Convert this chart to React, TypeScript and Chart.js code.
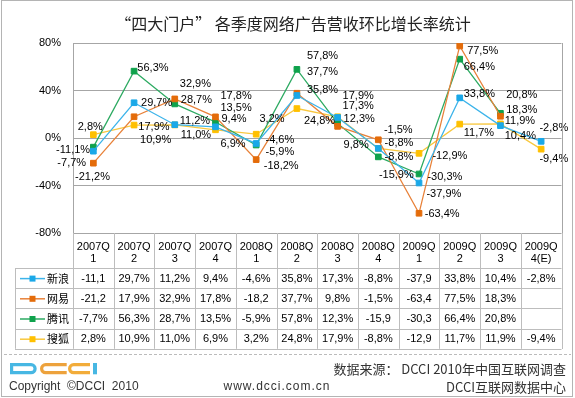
import React, { useEffect, useRef } from 'react';
import { Chart, registerables } from 'chart.js';

Chart.register(...registerables);

const title = '“四大门户” 各季度网络广告营收环比增长率统计';
const categories = ['2007Q1', '2007Q2', '2007Q3', '2007Q4', '2008Q1', '2008Q2', '2008Q3', '2008Q4', '2009Q1', '2009Q2', '2009Q3', '2009Q4(E)'];
const seriesNames = ['新浪', '网易', '腾讯', '搜狐'];
const sina = [-11.1, 29.7, 11.2, 9.4, -4.6, 35.8, 17.3, -8.8, -37.9, 33.8, 10.4, -2.8];
const netease = [-21.2, 17.9, 32.9, 17.8, -18.2, 37.7, 9.8, -1.5, -63.4, 77.5, 18.3, null];
const tencent = [-7.7, 56.3, 28.7, 13.5, -5.9, 57.8, 12.3, -15.9, -30.3, 66.4, 20.8, null];
const sohu = [2.8, 10.9, 11.0, 6.9, 3.2, 24.8, 17.9, -8.8, -12.9, 11.7, 11.9, -9.4];
const yMin = -80;
const yMax = 80;
const yStep = 40;
const sourceText = '数据来源： DCCI 2010年中国互联网调查';
const copyrightText = 'Copyright  ©DCCI  2010';
const siteText = 'www.dcci.com.cn';
const centerText = 'DCCI互联网数据中心';

const seriesValues = [sina, netease, tencent, sohu];
const seriesColors = ['#1AA8E8', '#E46C0A', '#0FA24C', '#FFC000'];
const lineColors = ['#3DB4EA', '#E8823A', '#2DAA62', '#F8C840'];

// label placement (dx, dy) relative to each point, left-aligned text
const labelOffsets: (number[] | null)[][] = [
  [[-37.3, -1.9], [7, -0.6], [5, -4.7], [6, -8], [9.3, -4], [10, -6], [5, -11.5], [6.3, -5.8], [7.4, 10.3], [4, -3.9], [4.3, 10], [-1.7, -14]],
  [[-18.3, 12.8], [4.3, 9.7], [5, -15.7], [5, -21], [7.6, 5.4], [10, -21.5], [6, 18], [5.6, -10.8], [5.7, 0], [7.4, 4], [5.7, -7], null],
  [[-36, 15.2], [3.3, -3.4], [6, -4.7], [5, -14.7], [9.3, 6.7], [10, -13.4], [6, -5], [0.6, 18], [8.4, 2], [4, 7.5], [5.7, -19.3], null],
  [[-15.6, -8.7], [6, 14], [6, 10], [5, 13.5], [3.3, -16], [7, 11.5], [5, -21.7], [6.3, 8.2], [13.4, 2.3], [4, 8.2], [4.3, -3.9], [-1.7, 9.1]],
];

const fmt = (v: number) => v.toFixed(1).replace('.', ',') + '%';
const cellText = (v: number | null) => {
  if (v === null || v === undefined) return '';
  const s = fmt(v);
  return s.length > 5 ? s.slice(0, -1) : s;
};

const LATIN = '"Liberation Sans", Arial, sans-serif';
const CJK = '"Noto Sans CJK SC", "Noto Sans", sans-serif';

const headerTop = 233;
const headerBottom = 268;
const rowH = 20.2;
const tableLeft = 15;

function drawLogo(ctx: CanvasRenderingContext2D, x: number, y: number) {
  const lw = 3.2;
  const h = 11.3;
  const t = y + lw / 2;
  const b = y + h - lw / 2;
  const r = (b - t) / 2;
  ctx.save();
  ctx.lineWidth = lw;
  // D
  ctx.strokeStyle = '#47B7E3';
  ctx.beginPath();
  const dR = x + 26.7 - lw / 2 - r;
  ctx.moveTo(x + lw / 2, t);
  ctx.lineTo(dR, t);
  ctx.arc(dR, t + r, r, -Math.PI / 2, Math.PI / 2, false);
  ctx.lineTo(x + lw / 2, b);
  ctx.closePath();
  ctx.stroke();
  // C C
  const drawC = (cx0: number, cx1: number, color: string) => {
    ctx.strokeStyle = color;
    ctx.beginPath();
    const c = cx0 + lw / 2 + r;
    ctx.moveTo(cx1, t);
    ctx.lineTo(c, t);
    ctx.arc(c, t + r, r, -Math.PI / 2, Math.PI / 2, true);
    ctx.lineTo(cx1, b);
    ctx.stroke();
  };
  drawC(x + 30, x + 56.7, '#EDA23C');
  drawC(x + 58, x + 80, '#F2AC3A');
  // I
  ctx.fillStyle = '#47B7E3';
  ctx.fillRect(x + 83, y, 4, h);
  ctx.restore();
}

const decorPlugin = {
  id: 'decor',
  afterDatasetsDraw(chart: any) {
    const { ctx } = chart;
    ctx.save();
    ctx.font = `11px ${LATIN}`;
    ctx.fillStyle = '#000';
    ctx.textAlign = 'left';
    ctx.textBaseline = 'middle';
    seriesValues.forEach((vals, si) => {
      const meta = chart.getDatasetMeta(si);
      vals.forEach((v, i) => {
        const off = labelOffsets[si][i];
        if (v === null || !off) return;
        const el = meta.data[i];
        ctx.fillText(fmt(v), el.x + off[0], el.y + off[1] + 0.5);
      });
    });
    ctx.restore();
  },
  afterDraw(chart: any) {
    const { ctx, chartArea: ca, scales } = chart;
    const x = scales.x;
    const n = categories.length;
    const colW = x.getPixelForValue(1) - x.getPixelForValue(0);
    const tableBottom = headerBottom + rowH * seriesNames.length;
    ctx.save();

    // outer frame
    ctx.strokeStyle = '#B4B4B4';
    ctx.lineWidth = 1;
    ctx.strokeRect(1.5, 0.5, 571, 396);

    // title
    ctx.fillStyle = '#222';
    ctx.font = `16px ${CJK}`;
    ctx.textAlign = 'center';
    ctx.textBaseline = 'middle';
    ctx.fillText(title, 293, 24);

    // plot right border
    ctx.strokeStyle = '#A6A6A6';
    ctx.beginPath();
    ctx.moveTo(Math.round(ca.right) + 0.5, ca.top);
    ctx.lineTo(Math.round(ca.right) + 0.5, tableBottom);
    ctx.stroke();

    // table lines
    ctx.strokeStyle = '#BDBDBD';
    ctx.beginPath();
    for (let k = 0; k <= n; k++) {
      const px = Math.round(x.getPixelForValue(k) - colW / 2) + 0.5;
      ctx.moveTo(px, headerTop);
      ctx.lineTo(px, tableBottom);
    }
    ctx.moveTo(tableLeft + 0.5, headerBottom);
    ctx.lineTo(tableLeft + 0.5, tableBottom);
    for (let r = 0; r <= seriesNames.length; r++) {
      const py = Math.round(headerBottom + r * rowH) + 0.5;
      ctx.moveTo(tableLeft, py);
      ctx.lineTo(ca.right, py);
    }
    ctx.stroke();

    // header texts
    ctx.fillStyle = '#000';
    ctx.font = `11px ${LATIN}`;
    ctx.textAlign = 'center';
    categories.forEach((c, i) => {
      const cx = x.getPixelForValue(i);
      ctx.fillText(c.slice(0, 5), cx, 247);
      ctx.fillText(c.slice(5), cx, 259);
    });

    // rows
    seriesNames.forEach((name, si) => {
      const cy = headerBottom + rowH * (si + 0.5) + 0.5;
      // legend key
      ctx.strokeStyle = lineColors[si];
      ctx.lineWidth = 1.5;
      ctx.beginPath();
      ctx.moveTo(20, cy);
      ctx.lineTo(45, cy);
      ctx.stroke();
      ctx.fillStyle = seriesColors[si];
      ctx.fillRect(29.5, cy - 3, 6, 6);
      ctx.fillStyle = '#000';
      ctx.textAlign = 'left';
      ctx.font = `11px ${CJK}`;
      ctx.fillText(name, 47, cy);
      ctx.textAlign = 'center';
      ctx.font = `11px ${LATIN}`;
      seriesValues[si].forEach((v, i) => {
        ctx.fillText(cellText(v), x.getPixelForValue(i), cy);
      });
    });

    // footer dashed line
    ctx.strokeStyle = '#BBBBBB';
    ctx.lineWidth = 1;
    ctx.setLineDash([3, 2]);
    ctx.beginPath();
    ctx.moveTo(4, 354.5);
    ctx.lineTo(571, 354.5);
    ctx.stroke();
    ctx.setLineDash([]);

    drawLogo(ctx, 10, 363);

    ctx.fillStyle = '#333';
    ctx.textBaseline = 'middle';
    ctx.textAlign = 'right';
    ctx.font = `13px ${CJK}`;
    ctx.fillText(sourceText, 566, 369.5);
    ctx.fillText(centerText, 566, 387);
    ctx.textAlign = 'left';
    ctx.font = `12px ${LATIN}`;
    ctx.fillText(copyrightText, 9, 387);
    ctx.textAlign = 'center';
    (ctx as any).letterSpacing = '1px';
    ctx.fillText(siteText, 277, 387);
    (ctx as any).letterSpacing = '0px';
    ctx.restore();
  },
};

export default function App() {
  const ref = useRef<HTMLCanvasElement>(null);
  useEffect(() => {
    document.body.style.margin = '0';
    const canvas = ref.current;
    if (!canvas) return;
    const chart = new Chart(canvas, {
      type: 'line',
      data: {
        labels: categories,
        datasets: seriesNames.map((name, si) => ({
          label: name,
          data: seriesValues[si],
          borderColor: lineColors[si],
          backgroundColor: seriesColors[si],
          borderWidth: 1.3,
          pointStyle: 'rect',
          pointRadius: 4,
          pointBorderWidth: 1,
          pointBorderColor: seriesColors[si],
          pointBackgroundColor: seriesColors[si],
          tension: 0,
          spanGaps: false,
          fill: false,
        })),
      },
      options: {
        responsive: false,
        animation: false,
        devicePixelRatio: 1,
        layout: { padding: { left: 0, top: 43, right: 13.5, bottom: 165 } },
        plugins: {
          legend: { display: false },
          tooltip: { enabled: false },
          title: { display: false },
        },
        scales: {
          x: { type: 'category', offset: true, display: false },
          y: {
            min: yMin,
            max: yMax,
            ticks: {
              stepSize: yStep,
              callback: (v: any) => v + '%',
              color: '#000',
              padding: 12,
              font: { family: LATIN, size: 11 },
            },
            grid: { color: '#A6A6A6', drawTicks: false },
            border: { color: '#A6A6A6' },
            afterFit: (s: any) => {
              s.width = 73;
            },
          },
        },
      },
      plugins: [decorPlugin],
    } as any);
    return () => chart.destroy();
  }, []);
  return <canvas ref={ref} width={575} height={398} style={{ display: 'block', width: 575, height: 398 }} />;
}
